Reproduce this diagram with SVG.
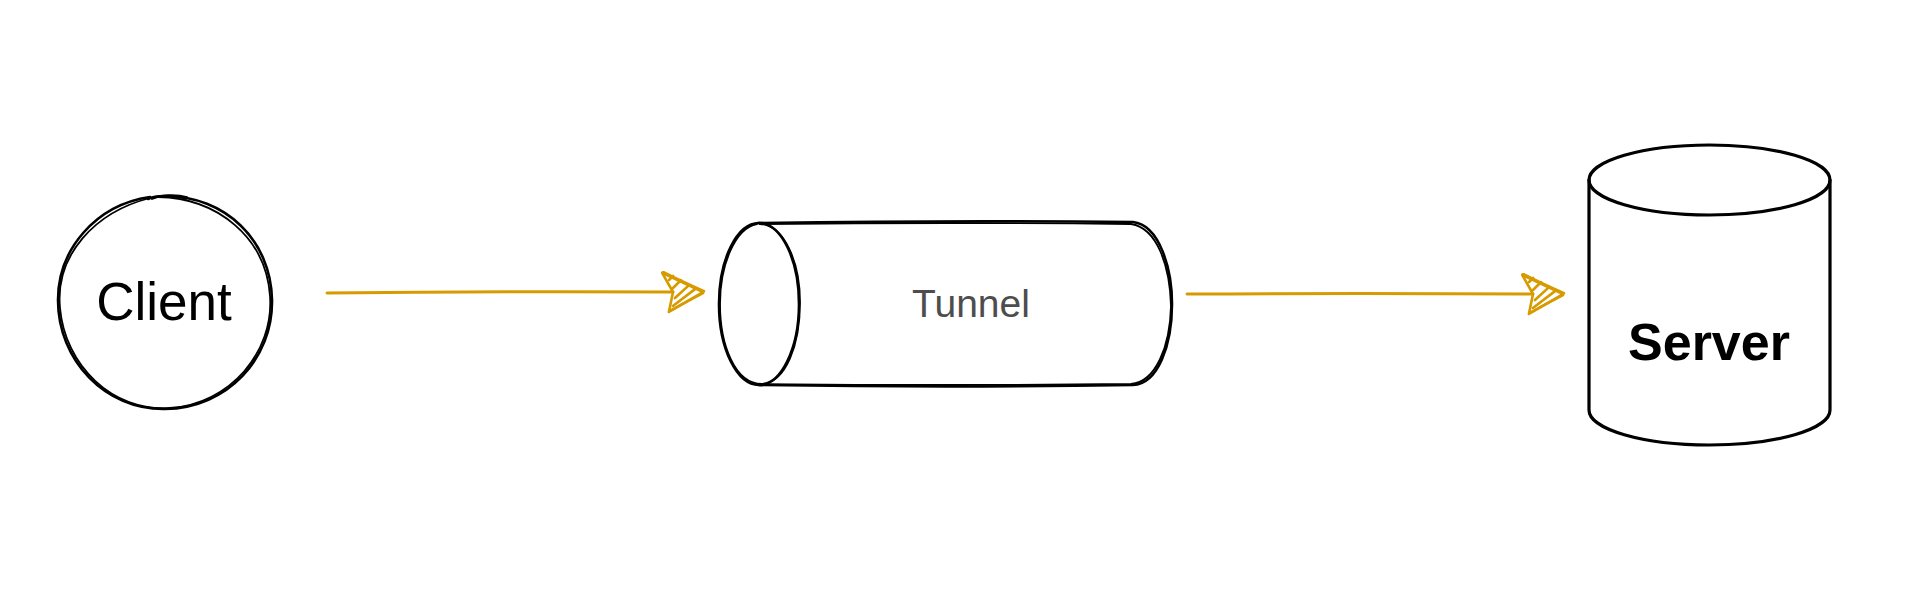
<svg xmlns="http://www.w3.org/2000/svg" width="1908" height="591" viewBox="0 0 1908 591">
<style>
.sk{fill:none;stroke:#000;stroke-width:2.6;stroke-linecap:round;stroke-linejoin:round}
.sk2{fill:none;stroke:#000;stroke-width:1.8;stroke-linecap:round;stroke-linejoin:round}
.bg{fill:#fff;stroke:none}
.conn{fill:none;stroke:#d79b00;stroke-width:3;stroke-linecap:round}
.lbl{font-family:"Liberation Sans",Arial,sans-serif;text-anchor:middle}
</style>
<defs>
<marker id="arr" markerUnits="userSpaceOnUse" viewBox="0 0 46 44" markerWidth="46" markerHeight="44" refX="12" refY="21" orient="auto">
<g fill="none" stroke="#d79b00" stroke-width="2.6" stroke-linecap="round" stroke-linejoin="round">
<path d="M1,2 L42,21 L8,41 L12,21 Z"/>
<path d="M2,1 Q20,10 43,20 M9,40 Q25,31 42,22"/>
<path d="M8,9 L12,5 M12,17 L20,9 M14,27 L28,14 M12,35 L34,18"/>
</g>
</marker>
</defs>
<rect width="1908" height="591" fill="#fff"/>
<g id="connectors">
<path class="conn" d="M327,293 Q500,291 673,292" marker-end="url(#arr)"/>
<path class="conn" d="M1187,294 Q1360,293 1533,294" marker-end="url(#arr)"/>
</g>
<g id="client">
<ellipse class="bg" cx="165" cy="302" rx="108" ry="107"/>
<path class="sk" d="M150,197 C95,205 58,250 58,300 C58,360 105,410 165,409 C228,408 273,358 272,300 C271,240 225,196 165,196 C158,196 152,197 148,199"/>
<path class="sk2" d="M187,197 C176,194 160,195 150,198 C95,212 55,255 60,308 C65,365 112,412 170,408 C230,404 274,352 270,296 C266,238 218,198 158,197"/>
<path class="sk2" d="M152,199 Q160,195 170,197 Q180,196 186,199"/>
<text class="lbl" x="164" y="320" font-size="53" fill="#000">Client</text>
</g>
<g id="tunnel">
<path class="bg" d="M759,223 L1133,223 A40,81 0 0 1 1133,385 L759,385 A40,81 0 0 1 759,223 Z"/>
<path class="sk" d="M758,223 Q950,220 1133,222 C1160,225 1172,270 1172,304 C1172,345 1158,384 1133,385 Q950,388 759,385"/>
<path class="sk2" d="M760,224 Q950,222 1131,224 C1158,228 1170,268 1171,306 C1170,346 1156,382 1131,384 Q950,386 758,384"/>
<ellipse class="sk" cx="759" cy="304" rx="40" ry="81"/>
<path class="sk2" d="M757,224 C735,228 720,265 720,304 C720,345 735,384 762,384 C786,382 800,345 800,302 C800,262 784,225 760,224"/>
<text class="lbl" x="971" y="317" font-size="39" fill="#4d4d4d">Tunnel</text>
</g>
<g id="server">
<path class="bg" d="M1589,180 A120.5,35 0 0 1 1830,180 L1830,410 A120.5,35 0 0 1 1589,410 Z"/>
<path class="sk" style="stroke-width:3.2" d="M1589,180 L1589,410 A120.5,35 0 0 0 1830,410 L1830,180"/>
<ellipse class="sk" style="stroke-width:3.2" cx="1709.5" cy="180" rx="120.5" ry="35"/>
<text class="lbl" x="1709" y="360" font-size="52" font-weight="bold" fill="#000">Server</text>
</g>
</svg>
